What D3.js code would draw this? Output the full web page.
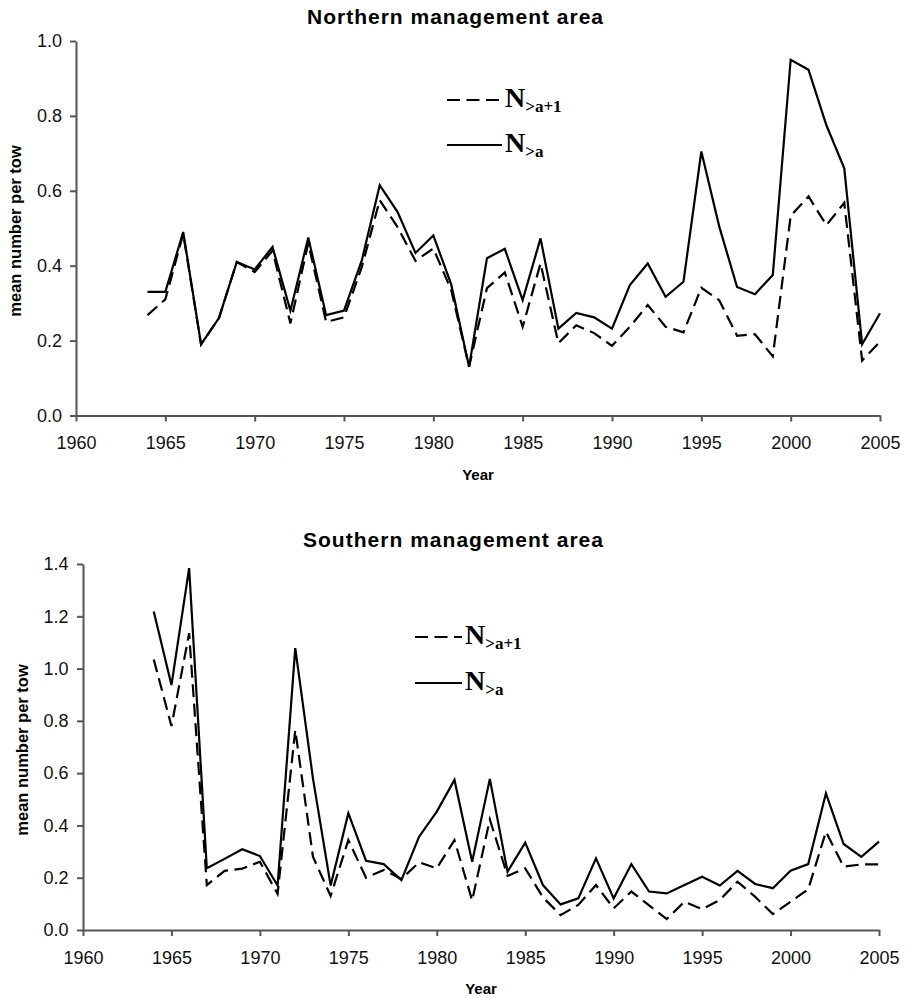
<!DOCTYPE html>
<html>
<head>
<meta charset="utf-8">
<script src="https://cdn.jsdelivr.net/npm/d3@7"></script>
<style>
  body { margin: 0; background: #fff; }
  svg { display: block; }
</style>
</head>
<body>
<svg id="chart" width="907" height="998"></svg>
<script>
// years surveyed (shared by both areas)
var years = [1964, 1965, 1966, 1967, 1968, 1969, 1970, 1971, 1972, 1973,
  1974, 1975, 1976, 1977, 1978, 1979, 1980, 1981, 1982, 1983,
  1984, 1985, 1986, 1987, 1988, 1989, 1990, 1991, 1992, 1993,
  1994, 1995, 1996, 1997, 1998, 1999, 2000, 2001, 2002, 2003,
  2004, 2005];

// Northern management area
var northAbove = [0.33, 0.33, 0.49, 0.19, 0.26, 0.41, 0.39, 0.45, 0.28, 0.475,
  0.268, 0.28, 0.415, 0.615, 0.543, 0.434, 0.481, 0.35, 0.13, 0.42,
  0.445, 0.308, 0.473, 0.232, 0.274, 0.262, 0.232, 0.348, 0.406, 0.317,
  0.357, 0.705, 0.505, 0.343, 0.324, 0.375, 0.95, 0.923, 0.775, 0.66,
  0.19, 0.273];
var northAbovePlus = [0.268, 0.31, 0.485, 0.19, 0.26, 0.41, 0.383, 0.44, 0.246, 0.46,
  0.25, 0.262, 0.397, 0.575, 0.503, 0.413, 0.446, 0.335, 0.13, 0.34,
  0.382, 0.237, 0.406, 0.193, 0.241, 0.22, 0.186, 0.237, 0.295, 0.237,
  0.222, 0.341, 0.308, 0.213, 0.217, 0.158, 0.533, 0.585, 0.508, 0.568,
  0.147, 0.197];

// Southern management area
var southAbove = [1.218, 0.937, 1.384, 0.236, 0.272, 0.309, 0.283, 0.17, 1.078, 0.58,
  0.17, 0.447, 0.265, 0.252, 0.191, 0.357, 0.453, 0.574, 0.261, 0.578,
  0.223, 0.334, 0.172, 0.098, 0.121, 0.274, 0.121, 0.252, 0.147, 0.14,
  0.172, 0.204, 0.17, 0.226, 0.176, 0.16, 0.227, 0.252, 0.523, 0.329,
  0.28, 0.338];
var southAbovePlus = [1.035, 0.78, 1.135, 0.172, 0.226, 0.235, 0.261, 0.138, 0.765, 0.28,
  0.13, 0.344, 0.2, 0.23, 0.195, 0.259, 0.236, 0.344, 0.113, 0.423,
  0.207, 0.236, 0.125, 0.057, 0.096, 0.172, 0.083, 0.147, 0.094, 0.042,
  0.108, 0.08, 0.115, 0.185, 0.127, 0.061, 0.108, 0.156, 0.376, 0.242,
  0.251, 0.251];

var xTicks = [1960, 1965, 1970, 1975, 1980, 1985, 1990, 1995, 2000, 2005];
var northYTicks = [0, 0.2, 0.4, 0.6, 0.8, 1.0];
var southYTicks = [0, 0.2, 0.4, 0.6, 0.8, 1.0, 1.2, 1.4];

var svg = d3.select('#chart');
var DASH = '13,6.5';

function drawPanel(p) {
  var x = d3.scaleLinear().domain([1960, 2005]).range([p.left, p.right]);
  var y = d3.scaleLinear().domain([0, p.yMax]).range([p.bottom, p.top]);
  var g = svg.append('g');

  // title
  g.append('text')
    .attr('x', p.titleX).attr('y', p.titleY)
    .attr('text-anchor', 'middle')
    .attr('textLength', p.titleLen).attr('lengthAdjust', 'spacing')
    .style('font-family', 'Liberation Sans, Arial, sans-serif')
    .style('font-weight', 'bold').style('font-size', '21px')
    .text(p.title);

  // axes
  var xAxis = g.append('g')
    .attr('transform', 'translate(0,' + p.bottom + ')')
    .call(d3.axisBottom(x).tickValues(xTicks).tickFormat(d3.format('d'))
      .tickSizeInner(6).tickSizeOuter(0).tickPadding(15));
  var yAxis = g.append('g')
    .attr('transform', 'translate(' + p.left + ',0)')
    .call(d3.axisLeft(y).tickValues(p.yTicks).tickFormat(d3.format('.1f'))
      .tickSizeInner(6).tickSizeOuter(0).tickPadding(p.yPad));
  [xAxis, yAxis].forEach(function (a) {
    a.select('.domain').attr('stroke', '#555').attr('stroke-width', 2);
    a.selectAll('.tick line').attr('stroke', '#555').attr('stroke-width', 2);
    a.selectAll('.tick text')
      .style('font-family', 'Liberation Sans, Arial, sans-serif')
      .style('font-size', '18px').attr('fill', '#111');
  });

  // axis labels
  g.append('text')
    .attr('x', p.yearX).attr('y', p.yearY)
    .attr('text-anchor', 'middle')
    .style('font-family', 'Liberation Sans, Arial, sans-serif')
    .style('font-weight', 'bold').style('font-size', '15px')
    .text('Year');
  g.append('text')
    .attr('transform', 'translate(' + p.ylabX + ',' + p.ylabY + ') rotate(-90)')
    .attr('text-anchor', 'middle')
    .style('font-family', 'Liberation Sans, Arial, sans-serif')
    .style('font-weight', 'bold').style('font-size', '16.5px')
    .text('mean number per tow');

  // series
  var line = d3.line()
    .x(function (d, i) { return x(years[i]); })
    .y(function (d) { return y(d); });
  g.append('path').datum(p.plus)
    .attr('d', line).attr('fill', 'none')
    .attr('stroke', '#000').attr('stroke-width', 2.2)
    .attr('stroke-dasharray', DASH);
  g.append('path').datum(p.above)
    .attr('d', line).attr('fill', 'none')
    .attr('stroke', '#000').attr('stroke-width', 2.2);

  // legend
  var lg = g.append('g');
  [
    { dy: 0, dash: DASH, sub: '>a+1' },
    { dy: p.legGap, dash: null, sub: '>a' }
  ].forEach(function (it) {
    var ly = p.legY + it.dy;
    lg.append('line')
      .attr('x1', p.legX1).attr('x2', p.legX2)
      .attr('y1', ly).attr('y2', ly)
      .attr('stroke', '#000').attr('stroke-width', 2)
      .attr('stroke-dasharray', it.dash);
    var t = lg.append('text')
      .attr('x', p.legX2 + 3).attr('y', ly + 7)
      .style('font-family', 'Liberation Serif, Times New Roman, serif')
      .style('font-weight', 'bold');
    t.append('tspan').style('font-size', '28px').text('N');
    t.append('tspan').attr('dy', 5).style('font-size', '17px').text(it.sub);
  });
}

drawPanel({
  title: 'Northern management area', titleX: 455, titleY: 24, titleLen: 296,
  left: 76, right: 880, top: 41, bottom: 415.5, yMax: 1.0,
  yTicks: northYTicks, yPad: 8,
  yearX: 478, yearY: 480, ylabX: 21, ylabY: 231,
  above: northAbove, plus: northAbovePlus,
  legX1: 447, legX2: 502, legY: 100, legGap: 45
});

drawPanel({
  title: 'Southern management area', titleX: 453, titleY: 546.5, titleLen: 300,
  left: 83, right: 879, top: 564, bottom: 930, yMax: 1.4,
  yTicks: southYTicks, yPad: 8.5,
  yearX: 481, yearY: 994, ylabX: 28, ylabY: 750,
  above: southAbove, plus: southAbovePlus,
  legX1: 415, legX2: 462, legY: 637, legGap: 46
});
</script>
</body>
</html>
